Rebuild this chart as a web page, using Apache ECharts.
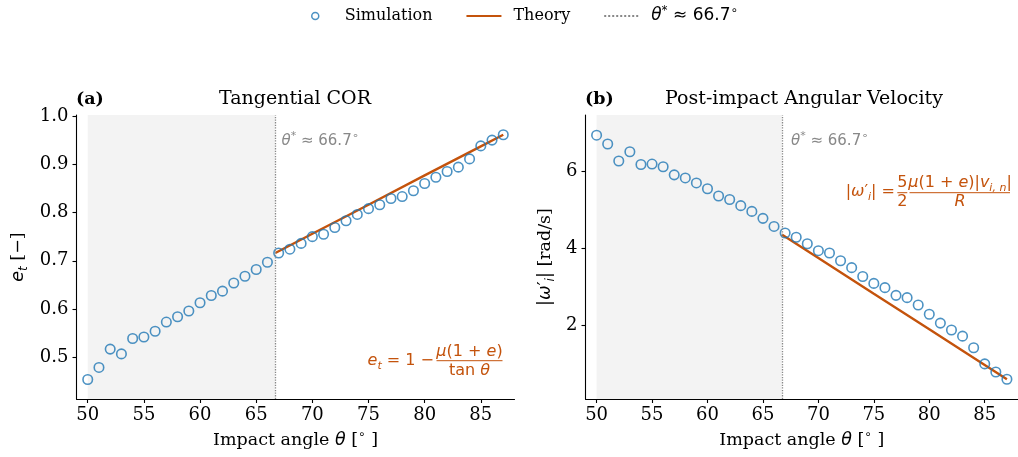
<!DOCTYPE html>
<html>
<head>
<meta charset="utf-8">
<script src="https://cdn.jsdelivr.net/npm/echarts@6/dist/echarts.min.js"></script>
<style>
  html, body { margin: 0; padding: 0; background: #fff; }
  #chart { width: 1018px; height: 457px; }
</style>
</head>
<body>
<div id="chart"></div>
<script>
// Impact angles of the simulated cases (degrees)
const angles = [50, 51, 52, 53, 54, 55, 56, 57, 58, 59, 60, 61, 62, 63, 64, 65, 66, 67, 68,
                69, 70, 71, 72, 73, 74, 75, 76, 77, 78, 79, 80, 81, 82, 83, 84, 85, 86, 87];
// Tangential coefficient of restitution from simulation
const etSim = [0.454, 0.479, 0.517, 0.507, 0.539, 0.542, 0.554, 0.573, 0.584, 0.596, 0.613,
               0.628, 0.637, 0.654, 0.668, 0.682, 0.697, 0.716, 0.724, 0.736, 0.750, 0.755,
               0.769, 0.783, 0.796, 0.808, 0.816, 0.829, 0.833, 0.845, 0.860, 0.873, 0.885,
               0.894, 0.911, 0.938, 0.950, 0.961];
// Post-impact angular velocity magnitude from simulation (rad/s)
const omegaSim = [6.93, 6.70, 6.26, 6.50, 6.17, 6.18, 6.11, 5.90, 5.82, 5.69, 5.54, 5.35,
                  5.26, 5.10, 4.95, 4.77, 4.56, 4.39, 4.28, 4.11, 3.93, 3.87, 3.67, 3.49,
                  3.26, 3.08, 2.97, 2.77, 2.71, 2.52, 2.28, 2.05, 1.87, 1.71, 1.41, 0.99,
                  0.78, 0.59];
// Theory curves (sliding regime, theta >= theta*)
const theoryAngles = [66.7, 70, 75, 80, 85, 87];
const etTheory = [0.716, 0.756, 0.816, 0.877, 0.937, 0.961];
const omegaTheory = [4.35, 3.74, 2.81, 1.89, 0.96, 0.59];
// Regime boundary and sticking region start
const thetaStar = 66.7;
const stickingStart = 50;
// Tick labels
const xTicks = [50, 55, 60, 65, 70, 75, 80, 85];
const etTicks = [0.5, 0.6, 0.7, 0.8, 0.9, 1.0];
const omegaTicks = [2, 4, 6];

const BLUE = '#1f77b4';
const ORANGE = '#c4530c';
const GRAY = '#888888';
const SERIF = '"DejaVu Serif", serif';
const MATH = '"DejaVu Sans", sans-serif';
const TH_NAME = 'θ* ≈ 66.7°';

// rich-text styles for math-like labels
function mathRich(size) {
  return {
    it:  { fontFamily: MATH, fontStyle: 'italic', fontSize: size, lineHeight: size + 5 },
    rm:  { fontFamily: MATH, fontSize: size, lineHeight: size + 5 },
    sr:  { fontFamily: SERIF, fontSize: size, lineHeight: size + 5 },
    sub: { fontFamily: MATH, fontStyle: 'italic', fontSize: Math.round(size * 0.7), verticalAlign: 'bottom' },
    sup: { fontFamily: MATH, fontSize: Math.round(size * 0.7), verticalAlign: 'top' }
  };
}

function mtext(x, y, text, align, size, fill) {
  return {
    type: 'text', x: x, y: y, silent: true,
    style: { text: text, rich: mathRich(size), align: align, verticalAlign: 'middle',
             fill: fill, fontFamily: MATH, fontSize: size }
  };
}
function hbar(x1, x2, y, stroke) {
  return { type: 'line', silent: true, shape: { x1: x1, y1: y, x2: x2, y2: y },
           style: { stroke: stroke, lineWidth: 1 } };
}
function ptext(x, y, text, align, size, weight) {
  return { type: 'text', x: x, y: y, silent: true,
           style: { text: text, align: align, verticalAlign: 'middle', fill: '#000',
                    fontFamily: SERIF, fontSize: size, fontWeight: weight || 'normal' } };
}

const grids = [
  { left: 76.5, top: 115, width: 438, height: 284 },
  { left: 585.5, top: 115, width: 438, height: 284 }
];

function makeXAxis(i) {
  return {
    gridIndex: i, type: 'value', min: 49, max: 88,
    axisLine: { show: true, onZero: false, lineStyle: { color: '#000', width: 1.1 } },
    axisTick: { show: true, length: 4, customValues: xTicks, lineStyle: { color: '#000', width: 1.1 } },
    axisLabel: { customValues: xTicks, color: '#000', fontFamily: SERIF, fontSize: 18, margin: 7 },
    splitLine: { show: false },
    name: '{sr|Impact angle }{it|θ}{sr| [}{sup|∘}{sr| ]}',
    nameLocation: 'middle', nameGap: 27,
    nameTextStyle: { color: '#000', fontFamily: SERIF, fontSize: 17.5, rich: mathRich(17.5) }
  };
}
function makeYAxis(i, min, max, ticks, fmt, name, gap) {
  return {
    gridIndex: i, type: 'value', min: min, max: max,
    axisLine: { show: true, onZero: false, lineStyle: { color: '#000', width: 1.1 } },
    axisTick: { show: true, length: 4, customValues: ticks, lineStyle: { color: '#000', width: 1.1 } },
    axisLabel: { customValues: ticks, color: '#000', fontFamily: SERIF, fontSize: 18, margin: 8, formatter: fmt },
    splitLine: { show: false },
    name: name, nameLocation: 'middle', nameGap: gap,
    nameTextStyle: { color: '#000', fontFamily: SERIF, fontSize: 17.5, rich: mathRich(17.5) }
  };
}

function panelSeries(i, sim, theory) {
  return [
    {
      name: TH_NAME, type: 'line', xAxisIndex: i, yAxisIndex: i, data: [], symbol: 'none', z: 1,
      lineStyle: { color: GRAY, type: 'dotted', width: 1.3 }, itemStyle: { color: GRAY },
      markArea: { silent: true, itemStyle: { color: '#f3f3f3' },
                  data: [[{ xAxis: stickingStart }, { xAxis: thetaStar }]] },
      markLine: { silent: true, symbol: 'none', label: { show: false }, animation: false,
                  lineStyle: { color: GRAY, type: 'dotted', width: 1.3 },
                  data: [{ xAxis: thetaStar }] }
    },
    {
      name: 'Theory', type: 'line', xAxisIndex: i, yAxisIndex: i, symbol: 'none', z: 3,
      data: theoryAngles.map((a, k) => [a, theory[k]]),
      lineStyle: { color: ORANGE, width: 2.4 }, itemStyle: { color: ORANGE }
    },
    {
      name: 'Simulation', type: 'scatter', xAxisIndex: i, yAxisIndex: i, symbol: 'circle',
      symbolSize: 9.5, z: 4,
      data: angles.map((a, k) => [a, sim[k]]),
      itemStyle: { color: 'rgba(0,0,0,0)', borderColor: BLUE, borderWidth: 1.6 }
    }
  ];
}

const chart = echarts.init(document.getElementById('chart'), null, { renderer: 'canvas' });
chart.setOption({
  animation: false,
  backgroundColor: '#fff',
  grid: grids,
  xAxis: [makeXAxis(0), makeXAxis(1)],
  yAxis: [
    makeYAxis(0, 0.4136, 1.002, etTicks, v => v.toFixed(1), '{it|e}{sub|t}{sr| [−]}', 47),
    makeYAxis(1, 0.078, 7.4545, omegaTicks, v => String(v), '{rm||}{it|ω}{rm|′}{sub|i}{rm||}{sr| [rad/s]}', 29)
  ],
  legend: {
    top: 0, left: 306, itemWidth: 35, itemHeight: 7, itemGap: 33, selectedMode: false,
    data: [
      { name: 'Simulation', icon: 'circle',
        itemStyle: { color: 'rgba(0,0,0,0)', borderColor: BLUE, borderWidth: 1.5 } },
      { name: 'Theory', itemStyle: { opacity: 0 } },
      { name: TH_NAME, itemStyle: { opacity: 0 } }
    ],
    formatter: n => n === TH_NAME ? '{it|θ}{sup|*}{rm| ≈ 66.7}{sup|∘}' : n,
    textStyle: { fontFamily: SERIF, fontSize: 16, color: '#000', padding: [0, 0, 0, 7],
                 rich: mathRich(17) }
  },
  series: [].concat(panelSeries(0, etSim, etTheory), panelSeries(1, omegaSim, omegaTheory)),
  graphic: [
    ptext(76, 99, '(a)', 'left', 17.5, 'bold'),
    ptext(295, 99, 'Tangential COR', 'center', 19),
    ptext(585, 99, '(b)', 'left', 17.5, 'bold'),
    ptext(804, 99, 'Post-impact Angular Velocity', 'center', 19),
    { type: 'text', x: 191, y: 151, silent: true,
      style: { text: 'Sticking\nregime', align: 'center', verticalAlign: 'middle', fill: '#8c8c8c',
               fontFamily: SERIF, fontSize: 15, lineHeight: 17 } },
    { type: 'text', x: 700, y: 151, silent: true,
      style: { text: 'Sticking\nregime', align: 'center', verticalAlign: 'middle', fill: '#8c8c8c',
               fontFamily: SERIF, fontSize: 15, lineHeight: 17 } },
    mtext(281.5, 141, '{it|θ}{sup|*}{rm| ≈ 66.7}{sup|∘}', 'left', 15, GRAY),
    mtext(791, 141, '{it|θ}{sup|*}{rm| ≈ 66.7}{sup|∘}', 'left', 15, GRAY),
    // e_t = 1 - mu(1+e)/tan(theta)
    mtext(434, 360.7, '{it|e}{sub|t}{rm| = 1 −}', 'right', 16, ORANGE),
    mtext(469.5, 351.5, '{it|μ}{rm|(1 + }{it|e}{rm|)}', 'center', 16, ORANGE),
    hbar(436.5, 502.5, 360.7, ORANGE),
    mtext(469.5, 370.5, '{rm|tan }{it|θ}', 'center', 16, ORANGE),
    // |omega'_i| = 5/2 mu(1+e)|v_{i,n}| / R
    mtext(895, 192, '{rm||}{it|ω}{rm|′}{sub|i}{rm|| =}', 'right', 16, ORANGE),
    mtext(902.3, 182.7, '{rm|5}', 'center', 16, ORANGE),
    hbar(897.3, 907.3, 192.7, ORANGE),
    mtext(902.3, 201.7, '{rm|2}', 'center', 16, ORANGE),
    mtext(960, 183.3, '{it|μ}{rm|(1 + }{it|e}{rm|)|}{it|v}{sub|i, n}{rm||}', 'center', 16, ORANGE),
    hbar(909.5, 1010, 192.7, ORANGE),
    mtext(960, 201.7, '{it|R}', 'center', 16, ORANGE)
  ]
});
</script>
</body>
</html>
